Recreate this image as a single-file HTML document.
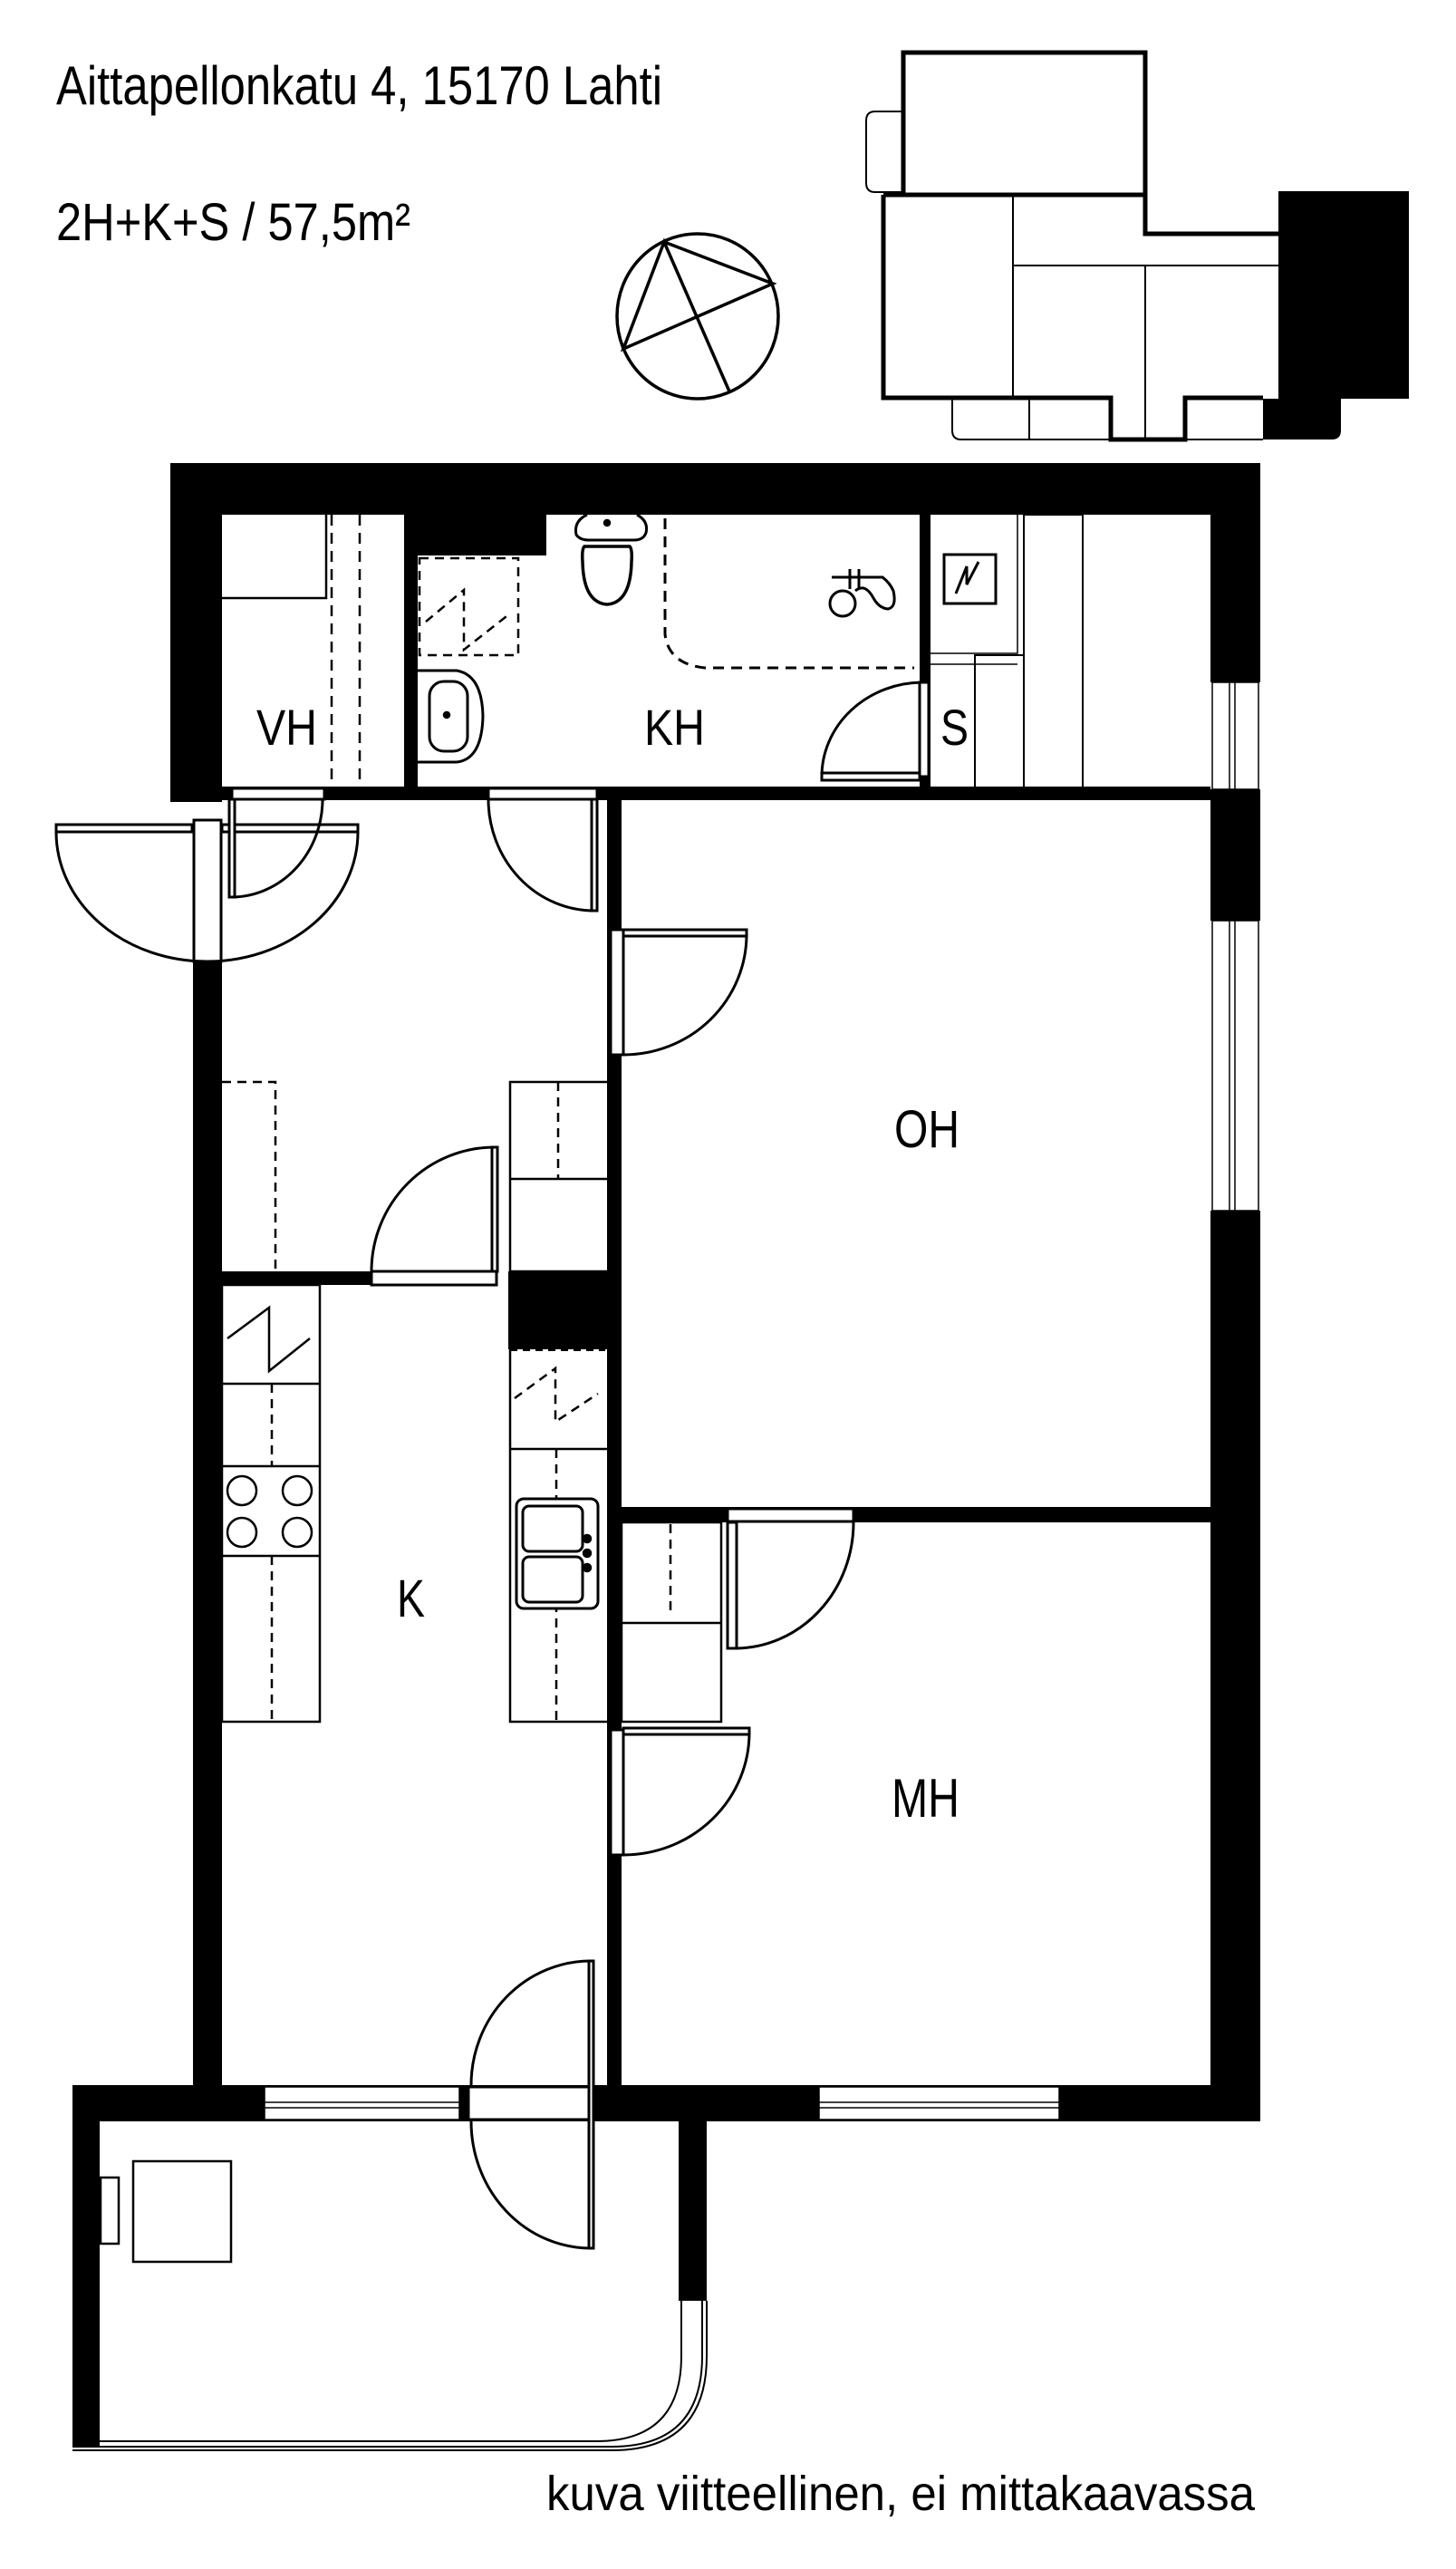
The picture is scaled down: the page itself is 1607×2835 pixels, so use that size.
<!DOCTYPE html>
<html><head><meta charset="utf-8"><style>
html,body{margin:0;padding:0;background:#fff}
svg{display:block}
text{font-family:"Liberation Sans",Arial,sans-serif;fill:#000}
</style></head><body>
<svg width="1607" height="2835" viewBox="0 0 1607 2835" xmlns="http://www.w3.org/2000/svg">
<rect width="1607" height="2835" fill="#fff"/>
<!-- header text -->
<text x="62" y="115" font-size="60" textLength="669" lengthAdjust="spacingAndGlyphs">Aittapellonkatu 4, 15170 Lahti</text>
<text x="62" y="265" font-size="58" textLength="391" lengthAdjust="spacingAndGlyphs">2H+K+S / 57,5m²</text>
<text x="603" y="2770" font-size="54" textLength="782" lengthAdjust="spacingAndGlyphs">kuva viitteellinen, ei mittakaavassa</text>

<!-- compass -->
<g fill="none" stroke="#000" stroke-width="3.5">
<ellipse cx="770" cy="349" rx="89" ry="91"/>
<polyline points="733,267 853,313 688,385 733,267 805,432"/>
</g>

<!-- key plan -->
<g fill="none" stroke="#000">
<path d="M997,58 H1264 V215 H997 Z" stroke-width="5"/>
<path d="M997,123 H966 Q956,123 956,133 V202 Q956,212 966,212 H997" stroke-width="2"/>
<path d="M975,215 H1264 V258 H1411 M975,215 V439 H1226 V485 H1308 V439 H1394" stroke-width="5"/>
<path d="M1118,215 V439 M1118,293 H1411 M1264,293 V485" stroke-width="2"/>
<path d="M1051,439 V475 Q1051,485 1061,485 H1226 M1136,439 V485 M1308,485 H1394" stroke-width="2"/>
</g>
<path d="M1411,211 H1555 V440 H1480 V475 Q1480,485 1470,485 H1394 V440 H1411 Z" fill="#000"/>

<!-- ===== main plan walls ===== -->
<g fill="#000">
<!-- upper block -->
<rect x="188" y="511" width="1203" height="57"/>
<rect x="188" y="511" width="57" height="374"/>
<rect x="1336" y="511" width="55" height="242"/>
<rect x="1336" y="871" width="55" height="145"/>
<rect x="1336" y="1336" width="55" height="1005"/>
<rect x="446" y="568" width="15" height="303"/>
<rect x="461" y="568" width="142" height="45"/>
<rect x="1015" y="568" width="12" height="303"/>
<rect x="245" y="868" width="1091" height="15"/>
<!-- left wall -->
<rect x="213" y="1061" width="32" height="1240"/>
<!-- corridor / rooms wall -->
<rect x="670" y="883" width="16" height="1418"/>
<rect x="561" y="1403" width="125" height="86"/>
<rect x="245" y="1403" width="165" height="15"/>
<rect x="686" y="1663" width="650" height="17"/>
<!-- bottom wall -->
<rect x="80" y="2301" width="1311" height="40"/>
<rect x="80" y="2301" width="30" height="400"/>
<rect x="749" y="2341" width="31" height="198"/>
</g>

<!-- windows -->
<g fill="#fff" stroke="#000" stroke-width="1.5">
<rect x="1338" y="753" width="51" height="118"/>
<rect x="1338" y="1016" width="51" height="320"/>
<rect x="292" y="2303" width="215" height="36"/>
<rect x="904" y="2303" width="265" height="36"/>
</g>
<g stroke="#000" stroke-width="1.5" fill="none">
<path d="M1357,753 V871 M1363,753 V871 M1357,1016 V1336 M1363,1016 V1336"/>
<path d="M292,2320 H507 M292,2326 H507 M904,2320 H1169 M904,2326 H1169"/>
</g>

<!-- door openings (white bars) -->
<g fill="#fff" stroke="#000" stroke-width="3">
<rect x="256" y="870" width="102" height="12"/>
<rect x="539" y="870" width="120" height="12"/>
<rect x="907" y="853" width="108" height="8"/>
<rect x="62" y="910" width="150" height="8"/>
<rect x="245" y="910" width="150" height="8"/>
<rect x="214" y="905" width="30" height="156"/>
<rect x="688" y="1026" width="136" height="7"/>
<rect x="410" y="1403" width="138" height="15"/>
<rect x="803" y="1665" width="139" height="14"/>
<rect x="688" y="1907" width="139" height="7"/>
<rect x="517" y="2303" width="137" height="36"/>
</g>

<!-- door leaves + arcs -->
<g fill="none" stroke="#000" stroke-width="3">
<!-- VH door -->
<rect x="253" y="882" width="6" height="108" fill="#fff"/>
<path d="M356,882 A101,108 0 0 1 256,990"/>
<!-- KH door from hall -->
<rect x="653" y="882" width="6" height="123" fill="#fff"/>
<path d="M539,882 A117,123 0 0 0 656,1005"/>
<!-- KH to S door -->
<rect x="1015" y="753" width="10" height="104" fill="#fff"/>
<path d="M907,857 A112,104 0 0 1 1019,753"/>
<!-- entrance -->
<path d="M62,918 A166,143 0 0 0 228,1061 A166,143 0 0 0 395,918"/>
<!-- OH door -->
<rect x="674" y="1026" width="14" height="138" fill="#fff"/>
<path d="M824,1031 A136,133 0 0 1 688,1164"/>
<!-- hall-kitchen door -->
<rect x="543" y="1266" width="6" height="137" fill="#fff"/>
<path d="M410,1403 A136,137 0 0 1 546,1266"/>
<!-- MH closet door -->
<rect x="803" y="1680" width="10" height="139" fill="#fff"/>
<path d="M942,1680 A131,139 0 0 1 811,1819"/>
<!-- MH door -->
<rect x="674" y="1909" width="14" height="138" fill="#fff"/>
<path d="M827,1912 A139,135 0 0 1 688,2047"/>
<!-- balcony door -->
<rect x="650" y="2164" width="5" height="317" fill="#fff"/>
<path d="M652,2164 A132,137 0 0 0 520,2301 M520,2341 A132,140 0 0 0 652,2481"/>
</g>

<!-- VH furniture -->
<g fill="none" stroke="#000" stroke-width="2.5">
<path d="M245,660 H360 V568"/>
<path d="M366,568 V871 M397,568 V871" stroke-dasharray="12,8"/>
<!-- KH shower dashed square -->
<rect x="463" y="616" width="109" height="107" stroke-dasharray="10,7"/>
<path d="M470,686 L512,651 L512,717 L563,677" stroke-dasharray="10,7"/>
<!-- toilet -->
<path d="M648,568 Q633,575 636,590 Q640,596 650,596 H700 Q710,596 713,588 Q716,575 703,568" stroke-width="3"/>
<circle cx="670" cy="577" r="3" fill="#000"/>
<path d="M645,603 Q642,606 643,620 Q644,665 670,667 Q696,665 697,620 Q698,606 695,603 Z" stroke-width="3.5"/>
<!-- shower curtain -->
<path d="M734,572 V700 Q738,733 778,737 H1009" stroke-dasharray="12,8" stroke-width="3"/>
<!-- shower faucet -->
<path d="M918,637 H974 Q982,643 986,652 Q990,670 980,672 Q970,671 964,660 Q955,643 944,652" stroke-width="3"/>
<circle cx="930" cy="666" r="14" stroke-width="3"/>
<path d="M938,628 V650 M948,628 V650" stroke-width="3"/>
<!-- sink -->
<path d="M461,740 H504 Q532,745 533,790 Q532,838 504,841 H461" stroke-width="3"/>
<rect x="474" y="752" width="42" height="77" rx="16" stroke-width="3"/>
<circle cx="493" cy="789" r="3" fill="#000"/>
<!-- S room -->
<rect x="1042" y="612" width="57" height="54" stroke-width="3"/>
<path d="M1055,655 L1067,625 L1067,645 L1080,620" stroke-width="3"/>
<path d="M1123,568 V721 H1027 M1123,733 H1027" stroke-width="1.5"/>
<rect x="1076" y="723" width="54" height="148" stroke-width="2"/>
<rect x="1130" y="568" width="65" height="303" stroke-width="2"/>
</g>

<!-- hall furniture -->
<g fill="none" stroke="#000" stroke-width="2.5">
<path d="M245,1194 H304 V1403" stroke-dasharray="10,7"/>
<rect x="563" y="1194" width="109" height="209"/>
<path d="M563,1301 H672"/>
<path d="M616,1194 V1301" stroke-dasharray="10,7"/>
<!-- kitchen left -->
<rect x="245" y="1418" width="108" height="482"/>
<path d="M245,1527 H353 M245,1618 H353 M245,1717 H353"/>
<path d="M251,1477 L297,1443 L297,1513 L342,1477"/>
<path d="M300,1527 V1618 M300,1717 V1900" stroke-dasharray="10,7"/>
<circle cx="267" cy="1645" r="16"/><circle cx="328" cy="1645" r="16"/>
<circle cx="267" cy="1691" r="16"/><circle cx="328" cy="1691" r="16"/>
<!-- kitchen right -->
<path d="M563,1489 V1900 H670 M563,1599 H670"/>
<path d="M563,1490 H668" stroke-dasharray="8,6" stroke-width="2"/>
<path d="M568,1543 L613,1510 L613,1569 L660,1538" stroke-dasharray="10,7"/>
<path d="M614,1599 V1900" stroke-dasharray="10,7"/>
<rect x="570" y="1654" width="90" height="121" rx="8" fill="#fff" stroke-width="3"/>
<rect x="577" y="1662" width="66" height="50" rx="7" stroke-width="3"/>
<rect x="577" y="1718" width="66" height="50" rx="7" stroke-width="3"/>
<circle cx="648" cy="1698" r="4" fill="#000"/><circle cx="648" cy="1714" r="4" fill="#000"/><circle cx="648" cy="1730" r="4" fill="#000"/>
<!-- MH closet -->
<rect x="686" y="1680" width="110" height="220"/>
<path d="M686,1791 H796"/>
<path d="M740,1682 V1780" stroke-dasharray="10,7"/>
<!-- balcony -->
<rect x="147" y="2385" width="108" height="111"/>
<rect x="111" y="2403" width="20" height="73"/>
</g>
<!-- balcony glass -->
<g fill="none" stroke="#000" stroke-width="2">
<path d="M775,2539 V2600 Q775,2700 675,2700 H80"/>
<path d="M780,2539 V2600 Q780,2704 675,2704 H80"/>
<path d="M752,2539 V2600 Q752,2694 658,2694 H110"/>
</g>

<!-- labels -->
<text x="283" y="822" font-size="56" textLength="67" lengthAdjust="spacingAndGlyphs">VH</text>
<text x="711" y="822" font-size="56" textLength="67" lengthAdjust="spacingAndGlyphs">KH</text>
<text x="1038" y="822" font-size="56" textLength="31" lengthAdjust="spacingAndGlyphs">S</text>
<text x="987" y="1266" font-size="58" textLength="72" lengthAdjust="spacingAndGlyphs">OH</text>
<text x="438" y="1784" font-size="58" textLength="31" lengthAdjust="spacingAndGlyphs">K</text>
<text x="984" y="2005" font-size="60" textLength="75" lengthAdjust="spacingAndGlyphs">MH</text>
</svg>
</body></html>
